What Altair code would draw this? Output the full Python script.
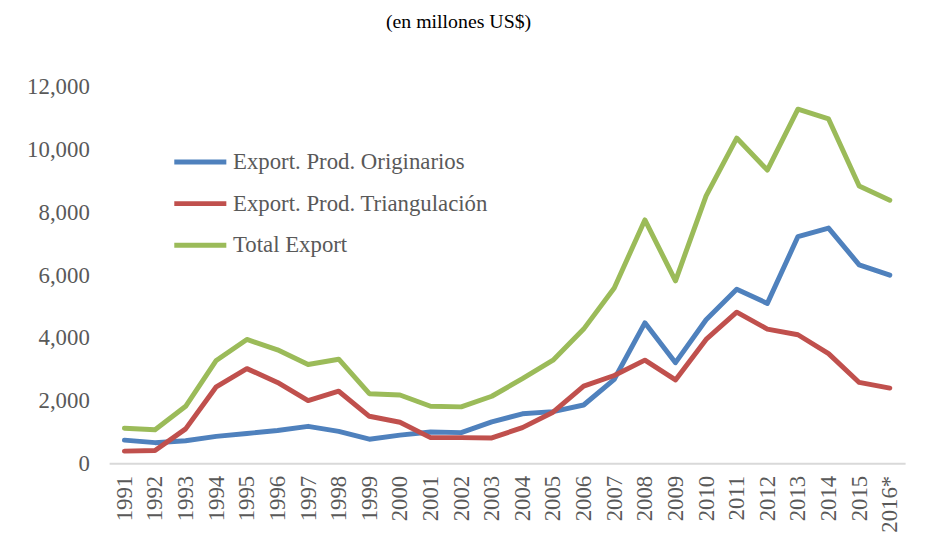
import altair as alt
import pandas as pd

years = [str(y) for y in range(1991, 2016)] + ["2016*"]
originarios = [740, 660, 720, 860, 950, 1050, 1180, 1020, 770, 900, 1000, 980, 1320,
               1580, 1650, 1860, 2680, 4480, 3210, 4580, 5550, 5100, 7230, 7500, 6330, 6000]
triangulacion = [390, 410, 1100, 2440, 3020, 2580, 2000, 2300, 1500, 1310, 820, 820, 810,
                 1140, 1630, 2460, 2800, 3290, 2660, 3950, 4820, 4280, 4100, 3500, 2580, 2400]
total = [1120, 1070, 1820, 3280, 3950, 3620, 3150, 3320, 2220, 2180, 1820, 1800, 2140,
         2700, 3290, 4280, 5590, 7760, 5820, 8530, 10370, 9350, 11290, 10980, 8840, 8390]
series_names = ["Export. Prod. Originarios", "Export. Prod. Triangulación", "Total Export"]
series_colors = ["#4f81bd", "#c0504d", "#9bbb59"]
y_ticks = [0, 2000, 4000, 6000, 8000, 10000, 12000]

rows = []
for name, vals in zip(series_names, [originarios, triangulacion, total]):
    for yr, v in zip(years, vals):
        rows.append({"year": yr, "value": v, "series": name})
df = pd.DataFrame(rows)

FONT = "Liberation Serif"
GRAY = "#595959"

chart = alt.Chart(df).mark_line(strokeWidth=5, strokeJoin="round", strokeCap="round").encode(
    x=alt.X("year:N", sort=years, title=None,
            scale=alt.Scale(paddingInner=1, paddingOuter=0.5),
            axis=alt.Axis(labelAngle=-90, labelPadding=12, ticks=False, grid=False,
                          domainColor="#d9d9d9", domainWidth=2,
                          labelFont=FONT, labelFontSize=23, labelColor=GRAY)),
    y=alt.Y("value:Q", title=None,
            scale=alt.Scale(domain=[0, 14000], nice=False),
            axis=alt.Axis(values=y_ticks, format=",d", ticks=False, domain=False, grid=False,
                          labelPadding=20, labelFont=FONT, labelFontSize=23, labelColor=GRAY)),
    color=alt.Color("series:N", sort=series_names,
                    scale=alt.Scale(domain=series_names, range=series_colors),
                    legend=alt.Legend(title=None, orient="none", legendX=79, legendY=126,
                                      symbolType="M-2.5,0H2.5", symbolSize=441,
                                      symbolStrokeWidth=5, labelOffset=20, rowPadding=17,
                                      labelLimit=500,
                                      labelFont=FONT, labelFontSize=23, labelColor=GRAY)),
).properties(
    width=803, height=443,
    title=alt.TitleParams(text="(en millones US$)", font=FONT, fontSize=20, fontWeight="normal",
                          color="#000000", anchor="middle", offset=4, dx=-49, dy=12),
    autosize=alt.AutoSizeParams(type="none"),
    padding={"left": 102, "top": 14, "right": 12, "bottom": 80},
).configure_view(stroke=None)

chart.save("out.html", embed_options={"renderer": "svg", "actions": False})
